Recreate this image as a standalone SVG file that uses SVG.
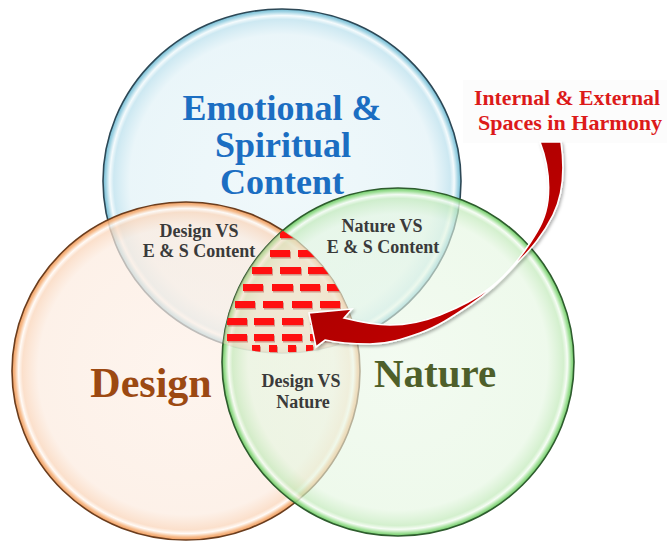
<svg xmlns="http://www.w3.org/2000/svg" width="667" height="542" viewBox="0 0 667 542">
<style>
.ring{stroke-width:1.6}
.big{font-family:"Liberation Serif","Times New Roman",serif;font-weight:bold;text-anchor:middle}
.sub{font-family:"Liberation Serif","Times New Roman",serif;font-weight:bold;font-size:18px;fill:#3a3a3a;text-anchor:middle}
.lab{font-family:"Liberation Serif","Times New Roman",serif;font-weight:bold;font-size:21px;fill:#dc1a1a;text-anchor:middle}
.brick{fill:#ff1010}
.bsh{fill:#a00000;opacity:.35}
</style>
<defs>
<radialGradient id="gB" cx="50%" cy="50%" r="50%">
<stop offset="0" stop-color="#eaf6f9" stop-opacity=".72"/>
<stop offset=".85" stop-color="#e2f2f7" stop-opacity=".72"/>
<stop offset=".94" stop-color="#bfe2ee" stop-opacity=".78"/>
<stop offset=".962" stop-color="#f3fafc" stop-opacity=".85"/>
<stop offset=".982" stop-color="#9dd2e3" stop-opacity=".9"/>
<stop offset="1" stop-color="#68b6cf" stop-opacity=".95"/>
</radialGradient>
<radialGradient id="gO" cx="50%" cy="50%" r="50%">
<stop offset="0" stop-color="#fdf0e7" stop-opacity=".7"/>
<stop offset=".85" stop-color="#fcebdf" stop-opacity=".7"/>
<stop offset=".94" stop-color="#fad7bd" stop-opacity=".78"/>
<stop offset=".962" stop-color="#fffaf6" stop-opacity=".85"/>
<stop offset=".982" stop-color="#f6b784" stop-opacity=".9"/>
<stop offset="1" stop-color="#ee9452" stop-opacity=".95"/>
</radialGradient>
<radialGradient id="gG" cx="50%" cy="50%" r="50%">
<stop offset="0" stop-color="#ebf8e8" stop-opacity=".62"/>
<stop offset=".85" stop-color="#e4f6e0" stop-opacity=".62"/>
<stop offset=".94" stop-color="#c3eabb" stop-opacity=".72"/>
<stop offset=".962" stop-color="#f5fcf3" stop-opacity=".82"/>
<stop offset=".982" stop-color="#9ddf94" stop-opacity=".9"/>
<stop offset="1" stop-color="#62c559" stop-opacity=".95"/>
</radialGradient>
<linearGradient id="gA" x1="0" y1="0" x2="1" y2="1">
<stop offset="0" stop-color="#9c0000"/>
<stop offset=".6" stop-color="#b80000"/>
<stop offset="1" stop-color="#d00000"/>
</linearGradient>
<clipPath id="cB"><ellipse cx="282" cy="181" rx="179" ry="172"/></clipPath>
<clipPath id="cO"><ellipse cx="186" cy="371" rx="174" ry="169"/></clipPath>
<clipPath id="cG"><ellipse cx="398" cy="362" rx="176" ry="174"/></clipPath>
<filter id="sh" x="-10%" y="-10%" width="130%" height="130%">
<feDropShadow dx="1.5" dy="2" stdDeviation="1.5" flood-color="#000" flood-opacity=".3"/>
</filter>
</defs>
<rect width="667" height="542" fill="#fff"/>

<g id="node-emotional">
<ellipse class="ring" cx="282" cy="181" rx="179" ry="172" fill="url(#gB)" stroke="#2d4856"/>
</g>
<g id="node-design">
<ellipse class="ring" cx="186" cy="371" rx="174" ry="169" fill="url(#gO)" stroke="#6a3d1e"/>
</g>
<g id="node-nature">
<ellipse class="ring" cx="398" cy="362" rx="176" ry="174" fill="url(#gG)" stroke="#2e5c2e"/>
</g>

<g id="node-center">
<g clip-path="url(#cB)"><g clip-path="url(#cO)"><g clip-path="url(#cG)">
<rect x="220" y="225" width="140" height="130" fill="#f7d9bf" opacity=".45"/>
<g transform="translate(1,1.5)" class="bsh">
<rect x="280" y="231" width="20" height="7"/>
<rect x="270" y="250" width="20" height="7"/><rect x="298" y="250" width="20" height="7"/>
<rect x="252" y="267" width="20" height="7"/><rect x="280" y="267" width="21" height="7"/><rect x="308" y="267" width="20" height="7"/>
<rect x="243" y="284" width="20" height="7"/><rect x="272" y="284" width="21" height="7"/><rect x="300" y="284" width="20" height="7"/><rect x="327" y="284" width="20" height="7"/>
<rect x="235" y="301" width="20" height="7"/><rect x="263" y="301" width="20" height="7"/><rect x="292" y="301" width="20" height="7"/><rect x="320" y="301" width="20" height="7"/>
<rect x="227" y="318" width="20" height="7"/><rect x="254" y="318" width="20" height="7"/><rect x="282" y="318" width="21" height="7"/><rect x="310" y="318" width="20" height="7"/>
<rect x="227" y="334" width="20" height="7"/><rect x="254" y="334" width="20" height="7"/><rect x="282" y="334" width="20" height="7"/><rect x="310" y="334" width="20" height="7"/>
<rect x="252" y="345" width="8" height="7"/><rect x="269" y="345" width="8" height="7"/><rect x="288" y="345" width="8" height="7"/><rect x="306" y="345" width="7" height="7"/>
</g>
<g class="brick">
<rect x="280" y="231" width="20" height="7"/>
<rect x="270" y="250" width="20" height="7"/><rect x="298" y="250" width="20" height="7"/>
<rect x="252" y="267" width="20" height="7"/><rect x="280" y="267" width="21" height="7"/><rect x="308" y="267" width="20" height="7"/>
<rect x="243" y="284" width="20" height="7"/><rect x="272" y="284" width="21" height="7"/><rect x="300" y="284" width="20" height="7"/><rect x="327" y="284" width="20" height="7"/>
<rect x="235" y="301" width="20" height="7"/><rect x="263" y="301" width="20" height="7"/><rect x="292" y="301" width="20" height="7"/><rect x="320" y="301" width="20" height="7"/>
<rect x="227" y="318" width="20" height="7"/><rect x="254" y="318" width="20" height="7"/><rect x="282" y="318" width="21" height="7"/><rect x="310" y="318" width="20" height="7"/>
<rect x="227" y="334" width="20" height="7"/><rect x="254" y="334" width="20" height="7"/><rect x="282" y="334" width="20" height="7"/><rect x="310" y="334" width="20" height="7"/>
<rect x="252" y="345" width="8" height="7"/><rect x="269" y="345" width="8" height="7"/><rect x="288" y="345" width="8" height="7"/><rect x="306" y="345" width="7" height="7"/>
</g>
</g></g></g>
</g>

<g id="labels">
<text class="big" x="282" y="120" font-size="36" fill="#1b6ec2">Emotional &amp;</text>
<text class="big" x="283" y="157" font-size="36" fill="#1b6ec2">Spiritual</text>
<text class="big" x="282" y="194" font-size="36" fill="#1b6ec2">Content</text>
<text class="big" x="151" y="397" font-size="42" fill="#9c4912">Design</text>
<text class="big" x="435" y="387" font-size="41" fill="#4e5f2a">Nature</text>
<text class="sub" x="199" y="237">Design VS</text>
<text class="sub" x="199" y="257">E &amp; S Content</text>
<text class="sub" x="382" y="232">Nature VS</text>
<text class="sub" x="383" y="253">E &amp; S Content</text>
<text class="sub" x="301" y="387">Design VS</text>
<text class="sub" x="303" y="408">Nature</text>
</g>

<g id="node-harmony">
<rect x="463" y="80" width="204" height="63" fill="#fcfcfc"/>
<text class="lab" x="567" y="105" textLength="186" lengthAdjust="spacingAndGlyphs">Internal &amp; External</text>
<text class="lab" x="570" y="130" textLength="184" lengthAdjust="spacingAndGlyphs">Spaces in Harmony</text>
</g>

<g id="connectors">
<path filter="url(#sh)" fill="url(#gA)" stroke="#ffffff" stroke-width="1.6" stroke-linejoin="miter" d="M 540 142 L 561 142 C 565 170 563 195 553 215 C 543 235 532 248 517 263 C 502 280 488 293 470 305 C 452 317 437 327 420 333 C 403 339 388 344 370 344 C 352 344 338 343 325 340 L 316 347 L 309 313 L 352 309 L 344 318 C 360 322 375 325 390 325 C 408 325 425 321 440 315 C 460 307 477 298 490 288 C 507 275 520 258 530 243 C 540 228 546 217 548 200 C 550 180 547 160 540 142 Z"/>
</g>
</svg>
